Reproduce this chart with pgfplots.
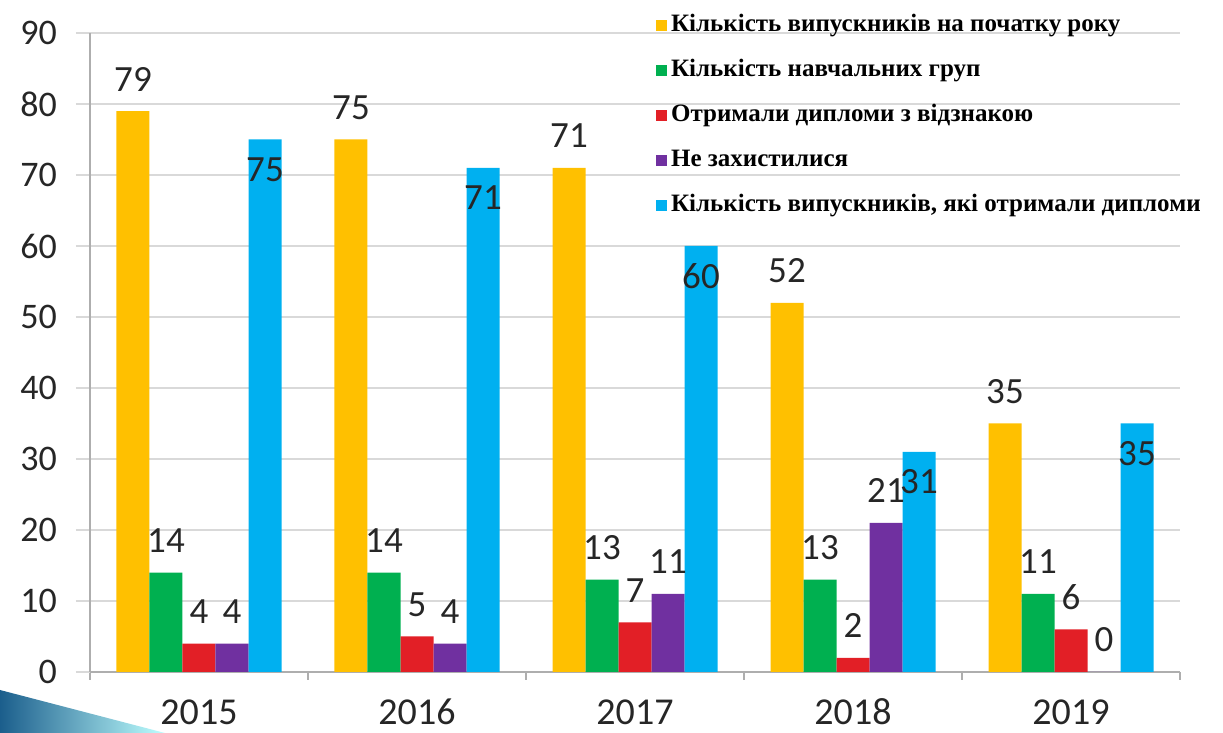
\documentclass[border=0pt]{standalone}
\usepackage{pgfplots}
\pgfplotsset{compat=1.18}
\usepackage{fontspec}
\setmainfont{Carlito}
\newfontfamily\legfont{Liberation Serif}
\definecolor{cYel}{HTML}{FFC000}
\definecolor{cGrn}{HTML}{00B050}
\definecolor{cRed}{HTML}{E21F26}
\definecolor{cPur}{HTML}{7030A0}
\definecolor{cBlu}{HTML}{00B0F0}
\definecolor{cGrid}{HTML}{D9D9D9}
\definecolor{cArr}{HTML}{1B5E8C}
\begin{document}
\begin{tikzpicture}
\useasboundingbox (0,0) rectangle (611.5pt,366.5pt);
\shade[left color=cArr, right color=cyan!25] (0,21.5pt) -- (82.5pt,0) -- (0,0) -- cycle;
\begin{axis}[
  at={(45pt,30.5pt)}, anchor=south west,
  scale only axis, width=545pt, height=319.5pt,
  ymin=0, ymax=90, ytick={0,10,...,90},
  xmin=-0.5, xmax=4.5,
  xtick={0,1,2,3,4}, xticklabels={2015,2016,2017,2018,2019},
  minor xtick={-0.5,0.5,1.5,2.5,3.5,4.5},
  major x tick style={draw=none},
  minor x tick style={draw=cGrid!80!black, line width=0.8pt},
  minor tick length=4pt,
  major tick length=7pt,
  tick align=outside,
  ytick style={draw=cGrid, line width=1pt},
  ymajorgrids, grid style={draw=cGrid, line width=1pt},
  axis x line*=bottom, axis y line*=left,
  axis line style={draw=cGrid!80!black, line width=0.8pt},
  /pgf/number format/assume math mode=true,
  yticklabel style={font=\fontsize{18}{20}\selectfont, text=black!85, xshift=-6pt},
  xticklabel style={font=\fontsize{19}{21}\selectfont, text=black!85, yshift=-3pt, text height=12.5pt, text depth=0pt},
  ybar=0pt, bar width=16.5pt,
  every axis plot/.append style={draw=none},
  nodes near coords,
  nodes near coords style={font=\fontsize{18.5}{20}\selectfont, text=black!85, anchor=center, yshift=16pt},
  legend image code/.code={\fill[#1] (0pt,-2.75pt) rectangle (5.5pt,2.75pt);},
  legend cell align=left,
  legend style={at={(0.519,1.034)}, anchor=north west, draw=none, fill=none,
    font=\legfont\bfseries\fontsize{12.5}{14}\selectfont, row sep=9pt,
    inner sep=0pt, nodes={inner xsep=2pt, inner ysep=1pt, text height=9pt, text depth=2.5pt}},
]
\addplot[fill=cYel] coordinates {(0,79) (1,75) (2,71) (3,52) (4,35)};
\addplot[fill=cGrn] coordinates {(0,14) (1,14) (2,13) (3,13) (4,11)};
\addplot[fill=cRed] coordinates {(0,4) (1,5) (2,7) (3,2) (4,6)};
\addplot[fill=cPur] coordinates {(0,4) (1,4) (2,11) (3,21) (4,0)};
\addplot[fill=cBlu, nodes near coords style={yshift=-31pt}] coordinates {(0,75) (1,71) (2,60) (3,31) (4,35)};
\legend{Кількість випускників на початку року, Кількість навчальних груп, Отримали дипломи з відзнакою, Не захистилися, {Кількість випускників, які отримали дипломи}}
\end{axis}
\end{tikzpicture}
\end{document}
